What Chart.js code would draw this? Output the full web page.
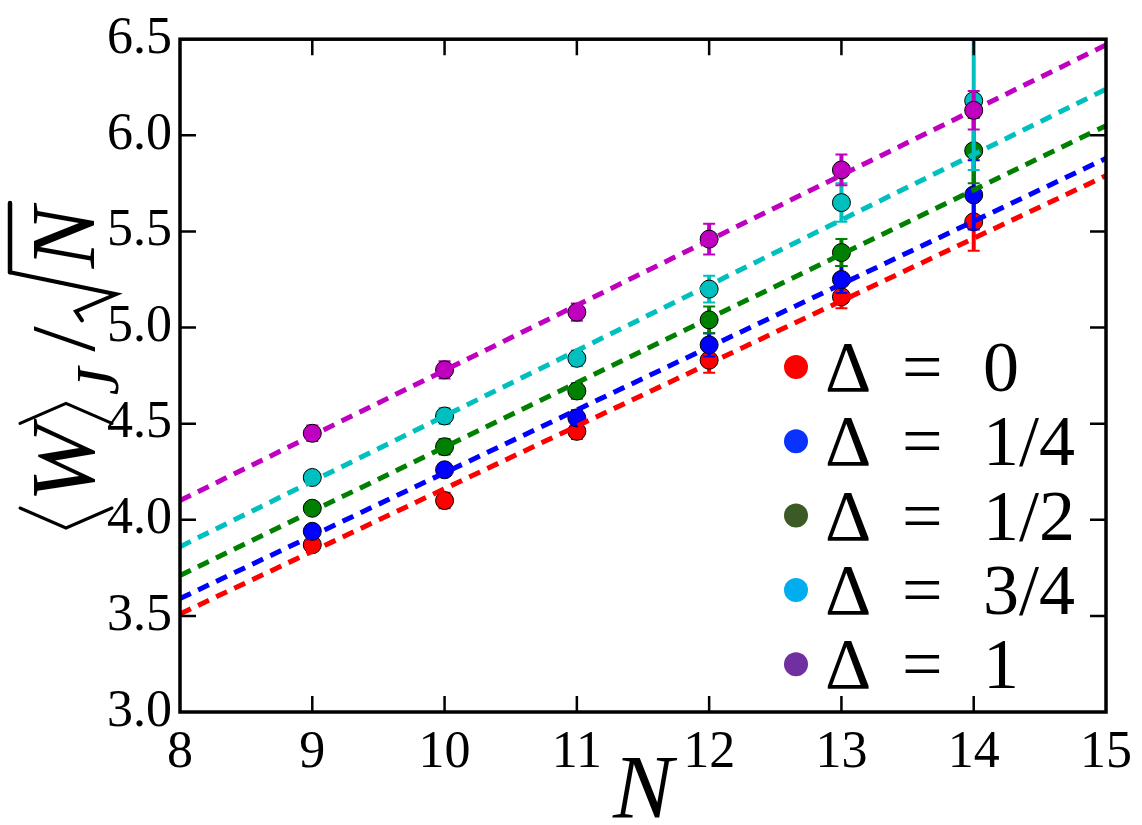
<!DOCTYPE html>
<html><head><meta charset="utf-8">
<script src="https://cdn.jsdelivr.net/npm/chart.js@4.4.1/dist/chart.umd.min.js"></script>
<style>html,body{margin:0;padding:0;background:#fff;}#wrap{width:1142px;height:825px;}</style>
</head><body><div id="wrap"><canvas id="c" width="1142" height="825"></canvas></div>
<script>
// ---- data ----
const N_VALUES = [9, 10, 11, 12, 13, 14];
const legendValues = ['0', '1/4', '1/2', '3/4', '1'];
const w_d0  = [3.87, 4.10, 4.46, 4.83, 5.16, 5.55];
const w_d14 = [3.94, 4.26, 4.53, 4.91, 5.25, 5.69];
const w_d12 = [4.06, 4.38, 4.67, 5.04, 5.39, 5.92];
const w_d34 = [4.22, 4.54, 4.84, 5.20, 5.65, 6.18];
const w_d1  = [4.45, 4.78, 5.08, 5.46, 5.82, 6.13];
const err_d0  = [0.03, 0.04, 0.04, 0.065, 0.06, 0.15];
const err_d14 = [0.03, 0.03, 0.04, 0.06, 0.07, 0.18];
const err_d12 = [0.03, 0.04, 0.04, 0.07, 0.07, 0.17];
const err_d34 = [0.03, 0.04, 0.04, 0.07, 0.10, 0.36];
const err_d1  = [0.04, 0.045, 0.045, 0.08, 0.08, 0.10];
const fitX = [8, 15];
const fit_d0  = [3.51, 5.79];
const fit_d14 = [3.59, 5.88];
const fit_d12 = [3.71, 6.05];
const fit_d34 = [3.86, 6.24];
const fit_d1  = [4.10, 6.47];
const xTickValues = [8, 9, 10, 11, 12, 13, 14, 15];
const yTickValues = [3.0, 3.5, 4.0, 4.5, 5.0, 5.5, 6.0, 6.5];

const pointColors = ['#ff0000', '#0000ff', '#008000', '#00bfbf', '#bf00bf'];
const legendColors = ['#ff0000', '#0a32ff', '#3b5a25', '#00aeef', '#7030a0'];

const series = [w_d0, w_d14, w_d12, w_d34, w_d1];
const errors = [err_d0, err_d14, err_d12, err_d34, err_d1];
const fits = [fit_d0, fit_d14, fit_d12, fit_d34, fit_d1];

const SERIF = 'Liberation Serif';

const datasets = [];
series.forEach((vals, i) => {
  datasets.push({
    label: 'Delta ' + legendValues[i],
    data: N_VALUES.map((n, k) => ({x: n, y: vals[k]})),
    errors: errors[i],
    backgroundColor: pointColors[i],
    borderColor: '#000',
    borderWidth: 1,
    pointRadius: 9,
    showLine: false,
    order: 20 - i
  });
});
fits.forEach((f, i) => {
  datasets.push({
    label: 'fit ' + legendValues[i],
    data: fitX.map((x, k) => ({x: x, y: f[k]})),
    borderColor: pointColors[i],
    borderWidth: 5,
    borderDash: [12, 8],
    pointRadius: 0,
    showLine: true,
    fill: false,
    order: 5 - i
  });
});

const errorBarPlugin = {
  id: 'errorBars',
  beforeDatasetDraw(chart, args) {
    const ds = chart.data.datasets[args.index];
    if (!ds.errors) return;
    const ctx = chart.ctx, xs = chart.scales.x, ys = chart.scales.y, a = chart.chartArea;
    ctx.save();
    ctx.beginPath();
    ctx.rect(a.left, a.top, a.right - a.left, a.bottom - a.top);
    ctx.clip();
    ctx.strokeStyle = ds.backgroundColor;
    ds.data.forEach((p, k) => {
      const e = ds.errors[k];
      const px = xs.getPixelForValue(p.x);
      const y1 = ys.getPixelForValue(p.y + e), y2 = ys.getPixelForValue(p.y - e);
      ctx.lineWidth = 4;
      ctx.beginPath(); ctx.moveTo(px, y1); ctx.lineTo(px, y2); ctx.stroke();
      ctx.lineWidth = 2;
      ctx.beginPath();
      ctx.moveTo(px - 6, y1); ctx.lineTo(px + 6, y1);
      ctx.moveTo(px - 6, y2); ctx.lineTo(px + 6, y2);
      ctx.stroke();
    });
    ctx.restore();
  }
};

const framePlugin = {
  id: 'frame',
  afterDatasetsDraw(chart) {
    const ctx = chart.ctx, a = chart.chartArea, xs = chart.scales.x, ys = chart.scales.y;
    ctx.save();
    ctx.strokeStyle = '#000';
    ctx.lineWidth = 2.5;
    const L = 16;
    ctx.beginPath();
    xTickValues.slice(1, -1).forEach(v => {
      const px = xs.getPixelForValue(v);
      ctx.moveTo(px, a.bottom); ctx.lineTo(px, a.bottom - L);
      ctx.moveTo(px, a.top); ctx.lineTo(px, a.top + L);
    });
    yTickValues.slice(1, -1).forEach(v => {
      const py = ys.getPixelForValue(v);
      ctx.moveTo(a.left, py); ctx.lineTo(a.left + L, py);
      ctx.moveTo(a.right, py); ctx.lineTo(a.right - L, py);
    });
    ctx.stroke();
    ctx.lineWidth = 3.5;
    ctx.strokeRect(a.left, a.top, a.right - a.left, a.bottom - a.top);
    ctx.restore();
  },
  afterDraw(chart) {
    const ctx = chart.ctx, a = chart.chartArea;
    ctx.save();
    for (let i = 0; i < legendValues.length; i++) {
      const cy = 367 + 74.3 * i;
      ctx.fillStyle = legendColors[i];
      ctx.beginPath(); ctx.arc(796, cy, 12, 0, Math.PI * 2); ctx.fill();
      ctx.fillStyle = '#000';
      ctx.textBaseline = 'alphabetic';
      ctx.textAlign = 'left';
      ctx.font = "72px 'Liberation Serif'";
      ctx.fillText('Δ', 825, cy + 24);
      ctx.fillText('=', 902, cy + 24);
      ctx.fillText(legendValues[i], 983, cy + 24);
    }
    ctx.font = "italic 90px 'Liberation Serif'";
    ctx.textAlign = 'center';
    ctx.fillText('N', (a.left + a.right) / 2, 818);

    // y title, rotated: <W>_J / sqrt(N)
    ctx.translate(94, 532);
    ctx.rotate(-Math.PI / 2);
    ctx.textAlign = 'left';
    ctx.strokeStyle = '#000';
    ctx.lineCap = 'round';
    ctx.lineJoin = 'miter';
    let x = 2;
    ctx.lineWidth = 3;
    ctx.beginPath(); ctx.moveTo(x + 22, -74); ctx.lineTo(x + 2, -28); ctx.lineTo(x + 22, 18); ctx.stroke();
    x += 28;
    ctx.font = "italic 92px 'Liberation Serif'";
    ctx.fillText('W', x, 0); x += ctx.measureText('W').width + 2;
    ctx.beginPath(); ctx.moveTo(x, -74); ctx.lineTo(x + 20, -28); ctx.lineTo(x, 18); ctx.stroke();
    x += 28;
    ctx.font = "italic 62px 'Liberation Serif'";
    ctx.fillText('J', x, 24); x += ctx.measureText('J').width + 16;
    ctx.font = "92px 'Liberation Serif'";
    ctx.fillText('/', x, 0); x += ctx.measureText('/').width + 6;
    ctx.lineWidth = 4;
    ctx.beginPath();
    ctx.moveTo(x, -12); ctx.lineTo(x + 9, -18); ctx.lineTo(x + 26, 22); ctx.lineTo(x + 48, -84);
    ctx.stroke();
    const nx = x + 52;
    ctx.font = "italic 92px 'Liberation Serif'";
    ctx.fillText('N', nx, 0);
    const nEnd = nx + ctx.measureText('N').width + 4;
    ctx.lineWidth = 4.5;
    ctx.beginPath(); ctx.moveTo(x + 48, -84); ctx.lineTo(nEnd, -84); ctx.stroke();
    ctx.restore();
  }
};

new Chart(document.getElementById('c'), {
  type: 'scatter',
  data: { datasets },
  options: {
    responsive: false,
    animation: false,
    layout: { padding: { top: 30, right: 29, left: 0, bottom: 0 } },
    plugins: { legend: { display: false }, tooltip: { enabled: false } },
    scales: {
      x: {
        type: 'linear', min: 8, max: 15,
        afterFit(s) { s.height = 113; },
        afterBuildTicks(s) { s.ticks = xTickValues.map(v => ({value: v})); },
        grid: { display: false, drawTicks: false },
        border: { display: false },
        ticks: { color: '#000', font: { family: SERIF, size: 52 }, padding: 10, maxRotation: 0 }
      },
      y: {
        type: 'linear', min: 3, max: 6.5,
        afterFit(s) { s.width = 180; },
        afterBuildTicks(s) { s.ticks = yTickValues.map(v => ({value: v})); },
        grid: { display: false, drawTicks: false },
        border: { display: false },
        ticks: { color: '#000', font: { family: SERIF, size: 52 }, padding: 8,
                 callback: v => Number(v).toFixed(1) }
      }
    }
  },
  plugins: [errorBarPlugin, framePlugin]
});
</script></body></html>
